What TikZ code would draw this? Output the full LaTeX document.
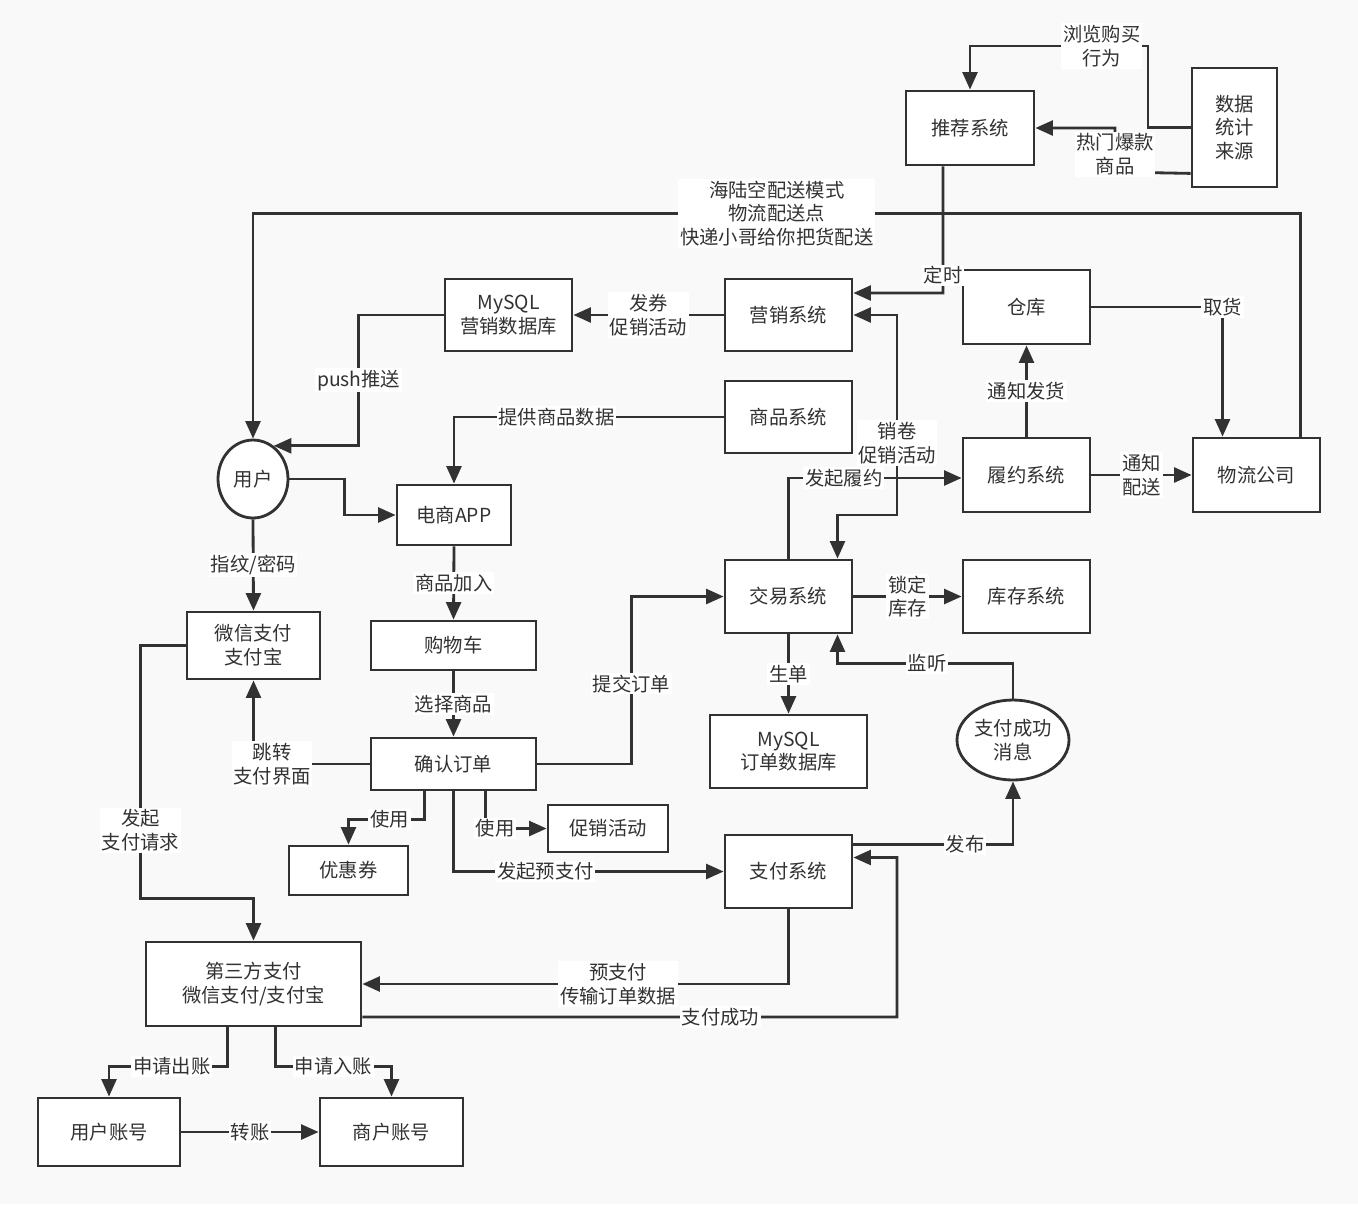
\documentclass[tikz,border=0pt]{standalone}
\usepackage{fontspec}
\setmainfont{Noto Sans CJK SC}
\usetikzlibrary{arrows.meta,shapes.geometric}
\definecolor{bgcol}{RGB}{249,249,249}
\definecolor{ink}{RGB}{50,50,50}

\begin{document}
\begin{tikzpicture}[x=0.02cm,y=-0.02cm,>={Triangle[length=10pt,width=8.5pt]},
    line width=1.6pt,color=ink,font=\fontsize{11}{13.5}\selectfont]

    \fill[bgcol] (0,0) rectangle (1358,1204);

    % ============================
    % Styles
    % ============================

    \tikzstyle{box}=[rectangle,draw=ink,fill=white,align=center,inner sep=2pt,
        minimum width=2.54cm,minimum height=1.46cm]
    \tikzstyle{oval}=[ellipse,draw=ink,fill=white,align=center,inner sep=0pt]
    \tikzstyle{lbl}=[fill=white,align=center,inner sep=1pt]

    % ============================
    % Top: recommendation, marketing, logistics
    % ============================

    \node[box,minimum width=2.56cm,minimum height=1.48cm] (rec) at (970,128) {推荐系统};
    \node[box,minimum width=1.7cm,minimum height=2.38cm] (data) at (1234.5,127.5) {数据\\统计\\来源};
    \node[box,minimum height=1.44cm] (mkt) at (788.5,315) {营销系统};
    \node[box,minimum height=1.44cm] (dbm) at (508.5,315) {MySQL\\营销数据库};
    \node[box,minimum height=1.44cm] (goods) at (788.5,417) {商品系统};
    \node[box,minimum height=1.48cm] (wh) at (1026.5,307) {仓库};
    \node[box,minimum height=1.48cm] (ful) at (1026.5,475) {履约系统};
    \node[box,minimum height=1.48cm] (wl) at (1256.5,475) {物流公司};

    % ============================
    % Middle: user, app, order, trade
    % ============================

    \node[oval,minimum width=1.4cm,minimum height=1.56cm] (user) at (253,479) {用户};
    \node[box,minimum width=2.28cm,minimum height=1.2cm] (app) at (454,515) {电商APP};
    \node[box,minimum width=3.3cm,minimum height=0.98cm] (cart) at (453.5,645.5) {购物车};
    \node[box,minimum width=3.3cm,minimum height=1.04cm] (confirm) at (453.5,764) {确认订单};
    \node[box,minimum width=2.66cm,minimum height=1.34cm] (wx) at (253.5,645.5) {微信支付\\支付宝};
    \node[box,minimum width=2.38cm,minimum height=0.98cm] (coupon) at (348.5,870.5) {优惠券};
    \node[box,minimum width=2.4cm,minimum height=0.94cm] (promo) at (608,828.5) {促销活动};
    \node[box] (trade) at (788.5,596.5) {交易系统};
    \node[box] (stock) at (1026.5,596.5) {库存系统};
    \node[box,minimum width=3.14cm] (dbo) at (788.5,751.5) {MySQL\\订单数据库};
    \node[oval,minimum width=2.24cm,minimum height=1.6cm] (msg) at (1013,740) {支付成功\\消息};
    \node[box] (pay) at (788.5,871.5) {支付系统};

    % ============================
    % Bottom: third party payment, accounts
    % ============================

    \node[box,minimum width=4.3cm,minimum height=1.68cm] (tp) at (253.5,984) {第三方支付\\微信支付/支付宝};
    \node[box,minimum width=2.84cm,minimum height=1.36cm] (ua) at (109,1132) {用户账号};
    \node[box,minimum width=2.86cm,minimum height=1.36cm] (ma) at (391.5,1132) {商户账号};

    % ============================
    % Edges
    % ============================

    % data source and recommendation
    \draw[->] (data.west) -- (1148,127.5) -- (1148,46) -| node[lbl,pos=0.13]{浏览购买\\行为} (rec.north);
    \draw[->] ([yshift=0.3cm]data.south west) -- (1115,172) -- node[lbl,pos=0.4]{热门爆款\\商品} (1115,128) -- (rec.east);
    \draw[->] ([xshift=-0.54cm]rec.south) -- node[lbl,pos=0.86]{定时} (943,293) -- ([yshift=0.44cm]mkt.east);

    % delivery back to the user
    \draw[->] ([xshift=0.88cm]wl.north) -- ++(0,-223) -| node[lbl,pos=0.25]{海陆空配送模式\\物流配送点\\快递小哥给你把货配送} (user.north);

    % marketing
    \draw[->] (mkt.west) -- node[lbl]{发券\\促销活动} (dbm.east);
    \draw[->] (dbm.west) -- ++(-85,0) |- node[lbl,pos=0.25]{push推送} (user.58);
    \draw[<->] (mkt.east) -| node[lbl,pos=0.82]{销卷\\促销活动} (897,515) -| ([xshift=0.98cm]trade.north);

    % shopping flow
    \draw[->] (user.east) -- ++(55,0) |- (app.west);
    \draw[->] (goods.west) -| node[lbl,pos=0.31]{提供商品数据} (app.north);
    \draw[->] (app.south) -- node[lbl]{商品加入} (cart.north);
    \draw[->] (cart.south) -- node[lbl]{选择商品} (confirm.north);
    \draw[->] (user.south) -- node[lbl]{指纹/密码} (wx.north);
    \draw[->] (confirm.west) -| node[lbl,pos=0.42]{跳转\\支付界面} (wx.south);
    \draw[->] ([xshift=-0.58cm]confirm.south) -- ++(0,28) -| node[lbl,pos=0.23]{使用} (coupon.north);
    \draw[->] ([xshift=0.64cm]confirm.south) |- node[lbl,pos=0.58]{使用} (promo.west);
    \draw[->] (confirm.east) -- ++(94,0) |- node[lbl,pos=0.24]{提交订单} (trade.west);
    \draw[->] (confirm.south) |- node[lbl,pos=0.67]{发起预支付} (pay.west);

    % trade and fulfilment
    \draw[->] (trade.north) |- node[lbl,pos=0.66]{发起履约} ([yshift=-0.06cm]ful.west);
    \draw[->] (ful.north) -- node[lbl]{通知发货} (wh.south);
    \draw[->] (wh.east) -| node[lbl,pos=0.5]{取货} ([xshift=-0.68cm]wl.north);
    \draw[->] (ful.east) -- node[lbl]{通知\\配送} (wl.west);
    \draw[->] (trade.east) -- node[lbl]{锁定\\库存} (stock.west);
    \draw[->] (trade.south) -- node[lbl]{生单} (dbo.north);
    \draw[->] (msg.north) -- ++(0,-35) -| node[lbl,pos=0.245]{监听} ([xshift=0.98cm]trade.south);
    \draw[->] ([yshift=0.54cm]pay.east) -| node[lbl,pos=0.35]{发布} (msg.south);

    % payment
    \draw[->] (wx.west) -- ++(-45,0) -- node[lbl,pos=0.73]{发起\\支付请求} ++(0,253) -| (tp.north);
    \draw[->] (pay.south) |- node[lbl,pos=0.7]{预支付\\传输订单数据} (tp.east);
    \draw[->] ([yshift=-0.66cm]tp.east) -- node[lbl,pos=0.67]{支付成功} (897,1017) |- ([yshift=0.28cm]pay.east);
    \draw[->] ([xshift=-0.52cm]tp.south) -- ++(0,39) -| node[lbl,pos=0.235]{申请出账} (ua.north);
    \draw[->] ([xshift=0.44cm]tp.south) -- ++(0,39) -| node[lbl,pos=0.25]{申请入账} (ma.north);
    \draw[->] (ua.east) -- node[lbl]{转账} (ma.west);

\end{tikzpicture}
\end{document}
